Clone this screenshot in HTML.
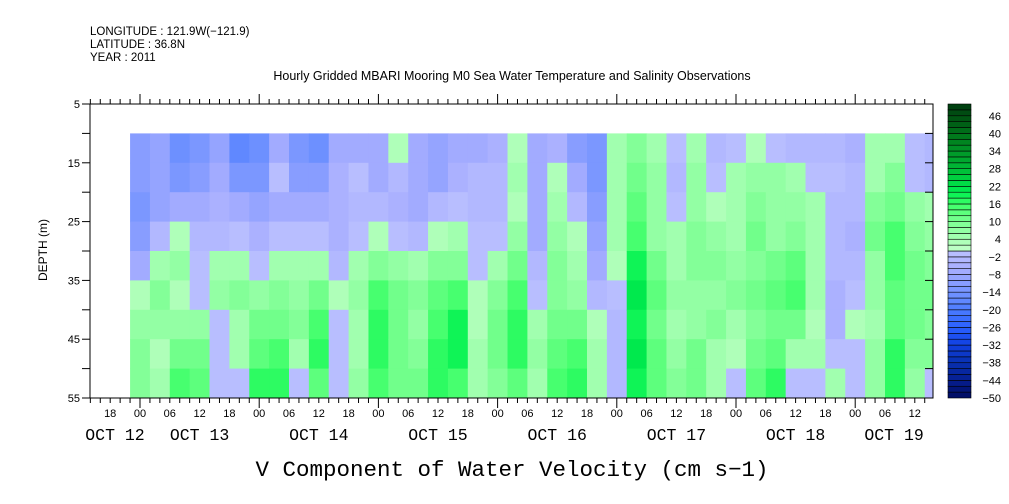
<!DOCTYPE html>
<html><head><meta charset="utf-8"><style>
html,body{margin:0;padding:0;background:#fff;}
svg{display:block;font-family:"Liberation Sans",sans-serif;}
</style></head><body>
<svg id="chart" width="1009" height="504" viewBox="0 0 1009 504">
<g font-size="11.5" fill="#000">
<text x="90" y="35">LONGITUDE : 121.9W(−121.9)</text>
<text x="90" y="48">LATITUDE : 36.8N</text>
<text x="90" y="61">YEAR : 2011</text>
</g>
<text x="512" y="80" text-anchor="middle" font-size="12.5">Hourly Gridded MBARI Mooring M0 Sea Water Temperature and Salinity Observations</text>
<g id="heat"></g>
<g id="axes"></g>
<g id="cbar"></g>
<text x="47" y="250" transform="rotate(-90 47 250)" text-anchor="middle" font-size="12">DEPTH (m)</text>
<text x="512" y="476" text-anchor="middle" font-family="Liberation Mono, monospace" font-size="22.5">V Component of Water Velocity (cm s−1)</text>
</svg>
<script>
// data: 4-hourly columns starting Oct12 22:00, depth rows 10..55 m in 5 m bins
const startHour = 22;          // hours after Oct12 00:00
const stepHours = 4;
const depthEdges = [10,15,20,25,30,35,40,45,50,55];
const v = [
[-12,-12,-14,-12,-8,2,6,8,8],
[-10,-10,-10,-4,4,8,6,2,4],
[-16,-14,-8,2,6,2,6,10,14],
[-14,-12,-8,-4,-2,-2,6,10,12],
[-10,-8,-6,-4,4,6,-2,-2,-2],
[-18,-14,-8,-2,4,8,4,4,-2],
[-16,-14,-10,-6,-2,6,10,12,16],
[-8,-2,-8,-2,4,8,10,14,16],
[-14,-12,-8,-2,4,6,8,4,-2],
[-16,-12,-8,-2,4,10,14,16,12],
[-8,-6,-6,-6,-4,2,-2,-2,-2],
[-8,-2,-4,-2,4,6,4,4,6],
[-8,-8,-4,2,8,14,16,16,14],
[2,-4,-6,-2,6,10,10,10,10],
[-8,-8,-8,-4,4,8,6,8,10],
[-10,-10,-4,2,8,12,14,16,16],
[-8,-6,-2,4,8,14,18,18,14],
[-8,-4,-4,-2,-2,2,2,4,4],
[-6,-4,-4,-2,4,8,10,10,8],
[2,4,2,6,10,14,16,16,12],
[-8,-8,-8,-8,-4,-2,4,6,4],
[-6,2,4,6,8,8,10,12,14],
[-12,-8,-4,2,4,6,10,14,16],
[-14,-14,-12,-10,-8,-4,2,4,4],
[4,4,4,4,2,-2,-4,-4,-4],
[8,10,12,14,18,20,18,20,18],
[4,6,6,6,10,12,10,12,12],
[-2,-4,-2,4,4,6,4,6,8],
[4,6,6,8,8,6,6,10,10],
[-4,-2,2,6,8,6,8,4,4],
[-2,4,4,4,6,8,4,2,-2],
[2,6,8,10,8,10,8,10,12],
[-2,6,6,6,10,12,10,12,16],
[-4,4,6,8,12,14,10,4,-2],
[-4,-2,4,4,4,4,2,4,-2],
[-4,-2,-4,-4,-4,-6,-6,-2,4],
[-6,-4,-4,-6,-4,-2,2,-2,-2],
[4,4,8,10,6,6,4,6,6],
[4,8,10,14,14,12,12,16,16],
[-2,-2,6,8,10,10,10,8,6],
[-4,-4,4,6,8,10,8,8,-2]
];
const cbarLabels = [46,40,34,28,22,16,10,4,-2,-8,-14,-20,-26,-32,-38,-44,-50];
const dayLabels = ["OCT 12","OCT 13","OCT 14","OCT 15","OCT 16","OCT 17","OCT 18","OCT 19"];
const yTickLabels = [5,15,25,35,45,55];

const NS="http://www.w3.org/2000/svg";
const X0=90,X1=933,Y0=104,Y1=398;
const pxPerHour=119.2/24, day13x=140;
function xScale(h){return day13x+(h-24)*pxPerHour;}
function yScale(d){return Y0+(d-5)*(Y1-Y0)/50;}
const anchors=[[-50,[0,12,96]],[-44,[6,30,144]],[-38,[8,48,176]],[-32,[16,64,224]],[-26,[42,96,255]],[-20,[76,124,255]],[-14,[116,148,255]],[-10,[142,160,255]],[-6,[168,174,255]],[-1,[184,190,255]],[1,[188,255,196]],[4,[168,255,180]],[8,[140,255,158]],[12,[104,255,132]],[16,[60,255,104]],[20,[0,240,80]],[26,[0,200,60]],[32,[0,160,44]],[38,[0,128,30]],[44,[0,90,20]],[50,[0,60,16]]];
function color(val){
  let b=Math.floor((val+50)/2); b=Math.max(0,Math.min(49,b));
  const c=-50+b*2+1;
  for(let i=0;i<anchors.length-1;i++){
    const [a,ca]=anchors[i],[bb,cb]=anchors[i+1];
    if(c>=a&&c<=bb){const t=(c-a)/(bb-a);return "rgb("+ca.map((q,k)=>Math.round(q+(cb[k]-q)*t)).join(",")+")";}
  }
  return "#fff";
}
function mk(tag,attrs,parent){const e=document.createElementNS(NS,tag);for(const k in attrs)e.setAttribute(k,attrs[k]);parent.appendChild(e);return e;}
const heat=document.getElementById('heat');
const defs=mk('defs',{},heat);
const cp=mk('clipPath',{id:'clip'},defs);
mk('rect',{x:X0,y:Y0,width:X1-X0,height:Y1-Y0},cp);
const hg=mk('g',{'clip-path':'url(#clip)'},heat);
v.forEach((col,i)=>{
  const xa=xScale(startHour+i*stepHours), xb=xScale(startHour+(i+1)*stepHours);
  col.forEach((val,j)=>{
    const r=mk('rect',{x:xa.toFixed(2),y:yScale(depthEdges[j]).toFixed(2),width:(xb-xa+0.6).toFixed(2),height:(yScale(depthEdges[j+1])-yScale(depthEdges[j])+0.6).toFixed(2),fill:color(val)},hg);
    
    
  });
});
const ax=document.getElementById('axes');
mk('rect',{x:X0,y:Y0,width:X1-X0,height:Y1-Y0,fill:'none',stroke:'#000','stroke-width':1},ax);
for(let d=5;d<=55;d+=5){
  const y=yScale(d);
  mk('line',{x1:X0-8,x2:X0,y1:y,y2:y,stroke:'#000'},ax);
  mk('line',{x1:X1-8,x2:X1,y1:y,y2:y,stroke:'#000'},ax);
}
yTickLabels.forEach(d=>{
  const t=mk('text',{x:80,y:yScale(d)+4,'text-anchor':'end','font-size':11},ax);
  t.textContent=d;
  
  
});
for(let h=14;h<=24*7+16;h+=2){
  const x=xScale(h); if(x<X0-0.5||x>X1+0.5)continue;
  const major=h%24===0;
  mk('line',{x1:x,x2:x,y1:Y0,y2:Y0-(major?10:5),stroke:'#000'},ax);
  mk('line',{x1:x,x2:x,y1:Y1,y2:Y1+(major?10:5),stroke:'#000'},ax);
  if(h%6===0){
    const t=mk('text',{x:x,y:417,'text-anchor':'middle','font-size':11},ax);
    const hh=h%24; t.textContent=(hh<10?'0':'')+hh;
    
    
  }
}
dayLabels.forEach((lab,i)=>{
  const a=Math.max(X0,xScale(i*24)), b=Math.min(X1,xScale(i*24+24));
  const t=mk('text',{x:(a+b)/2,y:440,'text-anchor':'middle','font-size':16.5,'font-family':'Liberation Mono, monospace'},ax);
  t.textContent=lab;
  
  
});
const cb=document.getElementById('cbar');
for(let b=0;b<50;b++){
  const val=-50+b*2+1, ya=Y0+(49-b)*(Y1-Y0)/50;
  const r=mk('rect',{x:948,y:ya.toFixed(2),width:23,height:((Y1-Y0)/50).toFixed(2),fill:color(val),stroke:'#000','stroke-width':0.6},cb);
  
  
}
cbarLabels.forEach(l=>{
  const y=Y0+(50-l)*(Y1-Y0)/100;
  const t=mk('text',{x:1001,y:y+4,'text-anchor':'end','font-size':11},cb);
  t.textContent=(l<0?'−':'')+Math.abs(l);
  
  
});
</script>
</body></html>
